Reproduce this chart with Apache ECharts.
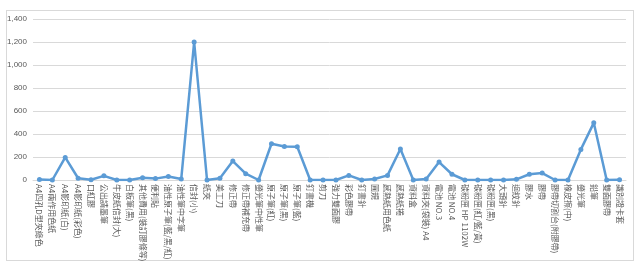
<!DOCTYPE html>
<html><head><meta charset="utf-8">
<script src="https://cdn.jsdelivr.net/npm/echarts@6/dist/echarts.min.js"></script>
<style>html,body{margin:0;padding:0;background:#fff}#frame{position:absolute;left:6px;top:10px;width:628px;height:251px;border:1px solid #d9d9d9;box-sizing:border-box}#c{width:644px;height:273px;position:absolute;left:0;top:0}</style>
</head><body><div id="frame"></div><div id="c"></div>
<script>
const categories = ["A4四孔D型夾綠色","A4兩作用色紙","A4影印紙(白)","A4影印紙(彩色)","口紅膠","公出請墨筆","牛皮紙信封(大)","白板筆(黑)","其他費用(裝訂膠條等)","便利貼","油性原子筆(藍/黑/紅)","油性筆中字筆","信封(小)","紙夾","美工刀","修正帶","修正帶補充帶","螢光筆中性筆","原子筆(紅)","原子筆(黑)","原子筆(藍)","釘書機","剪刀","強力雙面膠","彩色膠帶","釘書針","圓規","感熱紙用色紙","感熱紙捲","資料盒","資料夾(袋裝) A4","電池 NO.3","電池 NO.4","碳粉匣 HP 1102W","碳粉匣(紅/藍/黃)","碳粉匣(黑)","大頭針","迴紋針","膠水","膠帶","膠帶切割台(附膠帶)","橡皮擦(中)","螢光筆","鉛筆","雙面膠帶","識別證卡套"];
const values = [5,0,196,15,2,36,0,0,20,12,30,9,1200,0,15,165,55,0,315,292,289,0,0,0,40,0,9,40,270,0,9,156,50,0,0,0,0,6,50,60,0,0,266,497,0,3];
const yTicks = {min:0,max:1400,interval:200};
const chart = echarts.init(document.getElementById('c'));
chart.setOption({
  animation:false,
  grid:{left:33,right:18,top:19,bottom:93,containLabel:false},
  xAxis:{type:'category',data:categories,boundaryGap:true,
    axisLine:{lineStyle:{color:'#d9d9d9'}},axisTick:{show:false},
    axisLabel:{rotate:-90,interval:0,fontSize:8,color:'#595959',fontFamily:'"Noto Sans CJK TC", sans-serif',margin:4}},
  yAxis:{type:'value',min:yTicks.min,max:yTicks.max,interval:yTicks.interval,
    axisLine:{show:false},axisTick:{show:false},
    splitLine:{lineStyle:{color:'#d9d9d9',width:1}},
    axisLabel:{fontSize:8,color:'#595959',margin:6,fontFamily:'"Liberation Sans", sans-serif'}},
  series:[{type:'line',data:values,symbol:'circle',symbolSize:5,
    lineStyle:{color:'#5b9bd5',width:2.5},itemStyle:{color:'#5b9bd5'}}]
});
</script></body></html>
